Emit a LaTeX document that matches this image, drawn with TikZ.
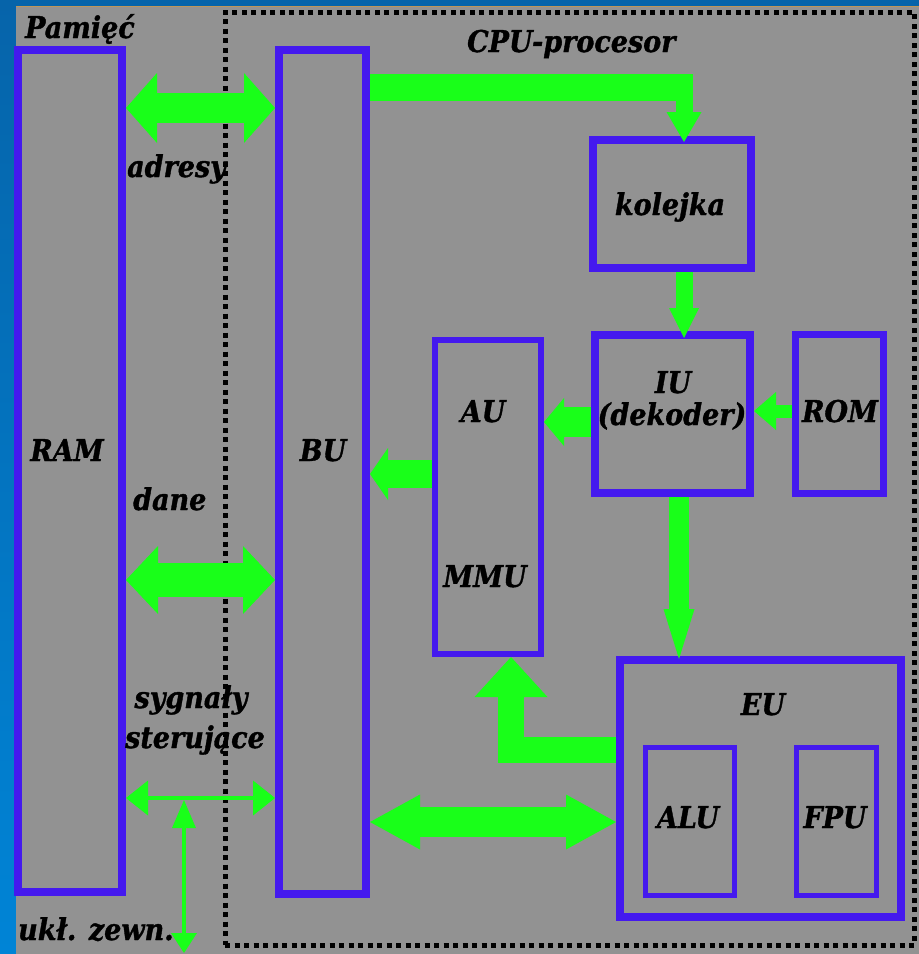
\documentclass[tikz,border=0pt]{standalone}
\usepackage{fontspec}
\setmainfont{DejaVu Serif}[FakeStretch=0.9, BoldItalicFeatures={FakeBold=1.2}]
\usetikzlibrary{arrows.meta,calc}
\definecolor{bg}{RGB}{146,146,146}
\definecolor{slideA}{RGB}{6,100,170}
\definecolor{slideB}{RGB}{0,132,214}
\definecolor{boxc}{RGB}{68,25,238}
\definecolor{arr}{RGB}{25,255,25}
\definecolor{tanline}{RGB}{190,150,90}
\begin{document}
\begin{tikzpicture}[x=1pt,y=-1pt,
  box/.style={draw=boxc, line width=#1, inner sep=0pt, rectangle},
  lbl/.style={font=\fontsize{30}{34}\selectfont\bfseries\itshape, inner sep=0pt, text=black},
  frame/.style={draw=black, line width=5pt, dash pattern=on 5pt off 4.5pt},
  fat/.style n args={3}{draw=arr, line width=#1, line cap=butt, line join=miter,
    -{Triangle[length=#2,width=#3,line width=0pt]}},
  fatboth/.style n args={3}{draw=arr, line width=#1, line cap=butt,
    {Triangle[length=#2,width=#3,line width=0pt]}-{Triangle[length=#2,width=#3,line width=0pt]}},
]
\useasboundingbox (0,0) rectangle (919,954);
% background
\fill[slideA] (0,0) rectangle (919,954);
\shade[top color=slideA, bottom color=slideB] (0,0) rectangle (16,954);
\fill[bg] (16,7) rectangle (919,954);
\draw[tanline, line width=1pt] (16,6.5) -- (919,6.5);

% CPU frame
\node[frame, inner sep=0pt, minimum width=689pt, minimum height=933pt] (CPUframe) at (569.5,478.5) {};

% boxes
\node[box=8pt, minimum width=104pt, minimum height=842pt] (RAM) at (70,471) {};
\node[box=8pt, minimum width=87pt, minimum height=844pt] (BU) at (322.5,472) {};
\node[box=6pt, minimum width=106pt, minimum height=314pt] (AM) at (488,497) {};
\node[box=8pt, minimum width=158pt, minimum height=128pt] (KOL) at (672,204) {};
\node[box=8pt, minimum width=155pt, minimum height=158pt] (IU) at (672.5,414) {};
\node[box=7pt, minimum width=88pt, minimum height=159pt] (ROM) at (839,413.5) {};
\node[box=8pt, minimum width=281pt, minimum height=257pt] (EU) at (760.5,788.5) {};
\node[box=5pt, minimum width=89pt, minimum height=148pt] (ALU) at (689.5,821) {};
\node[box=5pt, minimum width=80pt, minimum height=148pt] (FPU) at (836,821) {};

% labels
\node[lbl, anchor=base west] (tPam) at (25,38) {Pamięć};
\node[lbl, anchor=base west] (tCPU) at (467,52) {CPU-procesor};
\node[lbl, anchor=base west] (tadr) at (127,177) {adresy};
\node[lbl, anchor=base] (tRAM) at (67,461) {RAM};
\node[lbl, anchor=base] (tBU) at (323,461) {BU};
\node[lbl, anchor=base west] (tdane) at (133,510) {dane};
\node[lbl, anchor=base] (tsyg) at (191,708) {sygnały};
\node[lbl, anchor=base] (tster) at (195,748) {sterujące};
\node[lbl, anchor=base west] (tukl) at (18,940) {ukł. zewn.};
\node[lbl, anchor=base] (tkol) at (670,215) {kolejka};
\node[lbl, anchor=base] (tAU) at (483,422) {AU};
\node[lbl, anchor=base] (tMMU) at (485,587) {MMU};
\node[lbl, anchor=base] (tIU) at (673,393) {IU};
\node[lbl, anchor=base] (tdek) at (672,425) {(dekoder)};
\node[lbl, anchor=base] (tROM) at (840,422) {ROM};
\node[lbl, anchor=base] (tEU) at (763,715) {EU};
\node[lbl, anchor=base] (tALU) at (688,828) {ALU};
\node[lbl, anchor=base] (tFPU) at (835,828) {FPU};

% level coordinates
\coordinate (ya) at (0,108);
\coordinate (yd) at (0,580);
\coordinate (ys) at (0,798);
\coordinate (yb) at (0,87);
\coordinate (xk) at (684,0);
\coordinate (yr) at (0,411);
\coordinate (yi) at (0,422);
\coordinate (yu) at (0,474);
\coordinate (xe) at (679,0);
\coordinate (ym) at (0,750);
\coordinate (xm) at (511,0);
\coordinate (yx) at (0,822);
\coordinate (sj) at (184,800);
\coordinate (ext) at (184,953);

% connectors
\draw[fatboth={30pt}{31pt}{70pt}] (RAM.east |- ya) -- (BU.west |- ya);
\draw[fatboth={34pt}{32pt}{68pt}] (RAM.east |- yd) -- (BU.west |- yd);
\draw[arr, line width=3.5pt, {Triangle[length=22pt,width=35pt,line width=0pt]}-{Triangle[length=22pt,width=35pt,line width=0pt]}] (RAM.east |- ys) -- (BU.west |- ys);
\draw[arr, line width=3.5pt, {Triangle[length=28pt,width=24pt,line width=0pt]}-{Triangle[length=20pt,width=26pt,line width=0pt]}] (sj) -- (ext);

\draw[arr, line width=27pt] (BU.east |- yb) -- ($(xk |- yb)+(8.5,0)$);
\draw[fat={17pt}{30pt}{35pt}, shorten >=-6pt] (xk |- yb) -- (xk |- KOL.north);
\draw[fat={17pt}{30pt}{30pt}, shorten >=-7pt] (xk |- KOL.south) -- (xk |- IU.north);
\draw[fat={13pt}{22pt}{38pt}] (ROM.west |- yr) -- (IU.east |- yr);
\draw[fat={30pt}{20pt}{48pt}] (IU.west |- yi) -- (AM.east |- yi);
\draw[fat={28pt}{18pt}{52pt}] (AM.west |- yu) -- (BU.east |- yu);
\draw[fat={20pt}{50pt}{31pt}, shorten >=-3pt] (xe |- IU.south) -- (xe |- EU.north);
\draw[fat={26pt}{40pt}{73pt}] (EU.west |- ym) -| (xm |- AM.south);
\draw[fatboth={30pt}{50pt}{55pt}] (BU.east |- yx) -- (EU.west |- yx);
\end{tikzpicture}
\end{document}
